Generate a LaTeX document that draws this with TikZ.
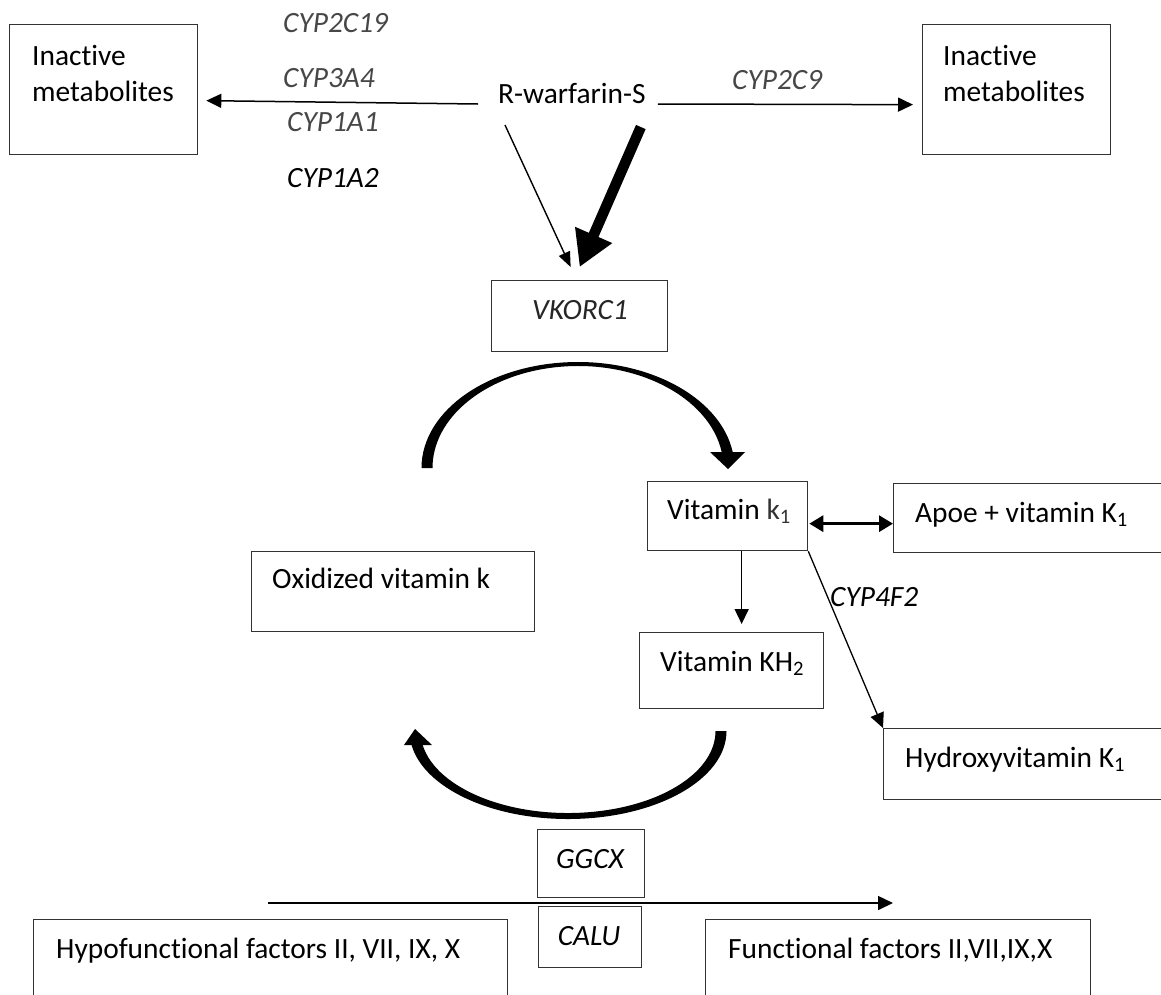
\documentclass[tikz,border=0pt]{standalone}
\usepackage{fontspec}
\setmainfont{Carlito}[Ligatures=NoCommon]
\usetikzlibrary{arrows.meta}
\begin{document}
\begin{tikzpicture}[x=1pt,y=-1pt,
  box/.style={draw=black!80, line width=1.3pt, rectangle, inner sep=0pt, anchor=north west},
  txt/.style={inner sep=0pt, anchor=base west, font=\fontsize{29.4}{36}\selectfont},
  cyp/.style={txt, font=\fontsize{29.4}{36}\selectfont\itshape, text=black!72},
  arr/.style={line width=1.5pt, -{Triangle[length=15pt,width=14pt]}},
  dbl/.style={line width=3pt, {Triangle[length=14pt,width=16pt]}-{Triangle[length=14pt,width=16pt]}},
  fat/.style={line width=10.5pt, -{Triangle[length=35pt,width=38pt]}},
  cyc/.style={fill=black, draw=none}]
\useasboundingbox (0,0) rectangle (1161,994);
\clip (0,0) rectangle (1161,994);
\fill[white] (0,0) rectangle (1161,994);

% boxes
\node[box, minimum width=188pt, minimum height=130pt] (lim) at (9,24) {};
\node[txt, anchor=north west, align=left] (limt) at (32,45.5) {Inactive\\metabolites};
\node[box, minimum width=188pt, minimum height=130pt] (rim) at (922,24) {};
\node[txt, anchor=north west, align=left] (rimt) at (943,45.5) {Inactive\\metabolites};

\node[txt] (war) at (498,103) {R-warfarin-S};

\node[cyp] (c19) at (283,32) {CYP2C19};
\node[cyp] (c3a4) at (283,87) {CYP3A4};
\node[cyp] (c1a1) at (287,131) {CYP1A1};
\node[cyp, text=black] (c1a2) at (287,187) {CYP1A2};
\node[cyp] (c2c9) at (732,89) {CYP2C9};

\node[box, minimum width=176pt, minimum height=71pt] (vk) at (491,280) {};
\node[cyp, anchor=base, text=black!85] (vkt) at (580,319) {VKORC1};

\node[box, minimum width=160pt, minimum height=69pt] (vk1) at (647,481) {};
\node[txt] (vk1t) at (667,519) {Vitamin {\color{black!80}k\textsubscript{1}}};

\node[box, minimum width=280pt, minimum height=69pt] (apoe) at (893,483) {};
\node[txt] (apoet) at (915,522) {Apoe + vitamin K\textsubscript{1}};

\node[box, minimum width=283pt, minimum height=80pt] (ox) at (251,551) {};
\node[txt] (oxt) at (272,588) {Oxidized vitamin k};

\node[box, minimum width=184pt, minimum height=76pt] (kh2) at (639,632) {};
\node[txt] (kh2t) at (660,671) {Vitamin KH\textsubscript{2}};

\node[box, minimum width=290pt, minimum height=71pt] (hyd) at (883,728) {};
\node[txt] (hydt) at (905,767) {Hydroxyvitamin K\textsubscript{1}};

\node[cyp, text=black] (c4f2) at (830,606) {CYP4F2};

\node[box, minimum width=107pt, minimum height=68pt] (ggcx) at (537,829) {};
\node[cyp, anchor=base, text=black] (ggcxt) at (590,868) {GGCX};
\node[box, minimum width=103pt, minimum height=61pt] (calu) at (538,906) {};
\node[cyp, anchor=base, text=black] (calut) at (589,945) {CALU};

\node[box, minimum width=474pt, minimum height=100pt] (hypo) at (33,919) {};
\node[txt] (hypot) at (56,958) {Hypofunctional factors II, VII, IX, X};
\node[box, minimum width=385pt, minimum height=100pt] (func) at (705,919) {};
\node[txt] (funct) at (728,958) {Functional factors II,VII,IX,X};

% connectors
\draw[arr] ([shift={(-20,1)}]war.base west) -- ([shift={(8,11)}]lim.east);
\draw[arr] ([shift={(12,1)}]war.base east) -- ([shift={(-9,15)}]rim.west);
\draw[arr, line width=1.4pt, -{Triangle[length=15pt,width=12pt]}] ([shift={(7,22)}]war.base west) -- ([shift={(-9,-13)}]vk.north);
\draw[fat] ([shift={(-5,24)}]war.base east) -- ([shift={(0,-13)}]vk.north);
\draw[dbl] ([shift={(1,7.5)}]vk1.east) -- ([shift={(0,7.5)}]vk1.east -| apoe.west);
\draw[arr] ([shift={(14,0)}]vk1.south) -- ([shift={(10,-8)}]kh2.north);
\draw[arr, line width=1.3pt] (vk1.south east) -- (hyd.north west);
\coordinate (gs) at (268,903);
\coordinate (ge) at (893,903);
\draw[arr] (gs) -- (ge);

% cycle arrows
\fill[cyc] (421.5,468) arc[start angle=180,end angle=351.3,x radius=156.5,y radius=106]
  -- ({578+145.5*cos(351)},{468+102*sin(351)})
  arc[start angle=351,end angle=180,x radius=145.5,y radius=102] -- cycle;
\fill[cyc] (710,452) -- (745,452) -- (728,469) -- cycle;
\fill[cyc] (726.5,731) arc[start angle=0,end angle=170.85,x radius=158.5,y radius=88]
  -- ({568+147.5*cos(170.2)},{731+82*sin(170.2)})
  arc[start angle=170.2,end angle=0,x radius=147.5,y radius=82] -- cycle;
\fill[cyc] (404,745) -- (432,745) -- (415,729) -- cycle;
\end{tikzpicture}
\end{document}
